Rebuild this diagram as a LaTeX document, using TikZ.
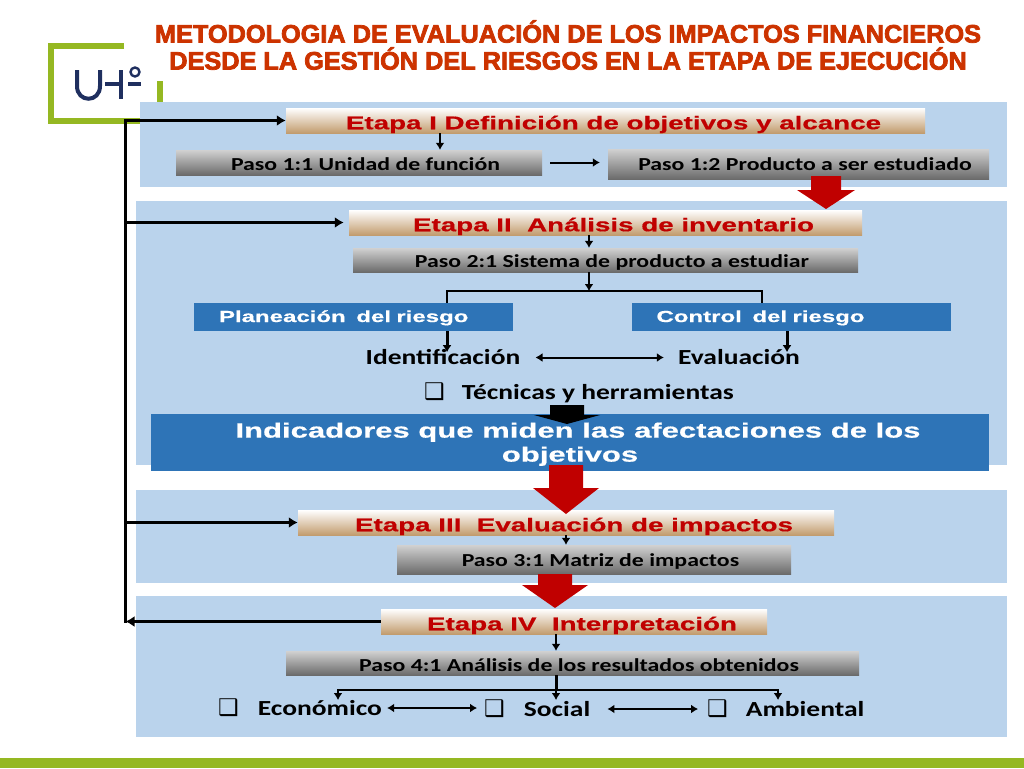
\documentclass[tikz,border=0pt]{standalone}
\usepackage{fontspec}
\usetikzlibrary{arrows.meta}
\newfontfamily\titulofont[FakeBold=3]{Liberation Sans Bold}
\newfontfamily\etapafont[FakeStretch=1.5,FakeBold=0.6]{Liberation Sans Bold}
\newfontfamily\pasofont[FakeStretch=1.3]{Carlito Bold}
\newfontfamily\itemfont[FakeStretch=1.28]{Carlito Bold}
\newfontfamily\cajafont{DejaVu Sans}
\definecolor{panelazul}{HTML}{BAD3EC}
\definecolor{cajaazul}{HTML}{2E74B7}
\definecolor{verdeuho}{HTML}{95B822}
\definecolor{azuluho}{HTML}{1F2F5F}
\definecolor{rojotitulo}{HTML}{CC3300}
\definecolor{rojoetapa}{HTML}{C00000}
\definecolor{tostado}{HTML}{C29C6E}
\tikzset{
  etapa/.style={minimum height=25pt, inner sep=0pt, top color=white, bottom color=tostado, text height=17.5pt, text depth=0pt,
    text=rojoetapa, font=\etapafont\fontsize{18.5}{20}\selectfont, execute at begin node=\hspace{16pt}},
  paso/.style={minimum height=25pt, inner sep=0pt, top color=black!18, bottom color=black!58, text height=15pt, text depth=0pt,
    text=black, font=\pasofont\fontsize{18.3}{20}\selectfont, execute at begin node=\hspace{13pt}},
  riesgo/.style={minimum height=28pt, minimum width=319pt, inner xsep=25pt, inner ysep=0pt, text width=269pt, align=left,
    text height=10pt, text depth=0pt, fill=cajaazul, text=white, font=\etapafont\fontsize{16}{18}\selectfont},
  item/.style={inner sep=0pt, text=black, font=\itemfont\fontsize{21.5}{24}\selectfont},
  flecha/.style={line width=2pt, -{Latex[length=7pt,width=9pt]}},
  doble/.style={line width=2pt, {Latex[length=7pt,width=9pt]}-{Latex[length=7pt,width=9pt]}},
  gruesa/.style={line width=3.6pt, -{Latex[length=9pt,width=11pt]}},
}
\newcommand{\caja}{{\cajafont\fontsize{23}{24}\selectfont ❑}}
\begin{document}
\begin{tikzpicture}[x=1pt, y=-1pt]
  \useasboundingbox (0,0) rectangle (1024,768);
  \fill[verdeuho] (0,758) rectangle (1024,768);

  % logo
  \draw[verdeuho, line width=6pt] (124,46) -- (51,46) -- (51,121) -- (160,121);
  \draw[verdeuho, line width=6pt] (159.5,81) -- (159.5,104);
  \draw[azuluho, line width=4pt] (77,70) -- (77,86) .. controls (77,103) and (100,103) .. (100,86) -- (100,70);
  \draw[azuluho, line width=4pt] (105,83.5) -- (120,83.5) (120.5,70) -- (120.5,99);
  \draw[azuluho, line width=3.2pt] (128,84) -- (141,84);
  \draw[azuluho, line width=2.4pt] (135,72) circle[radius=4.5];

  % panels
  \foreach \xa/\ya/\yb in {140/102/187, 136/201/465, 136/490/583, 136/596/737} {
    \fill[panelazul] (\xa,\ya) rectangle (1007,\yb);
  }

  \node[font=\titulofont\fontsize{25.3}{27}\selectfont, text=rojotitulo, align=center] (titulo) at (568,45)
    {METODOLOGIA DE EVALUACIÓN DE LOS IMPACTOS FINANCIEROS\\DESDE LA GESTIÓN DEL RIESGOS EN LA ETAPA DE EJECUCIÓN};

  \node[etapa, minimum width=639pt] (etapaI) at (605.5,120.5) {Etapa I Definición de objetivos y alcance};
  \node[paso, minimum width=366pt] (pasoUnidad) at (359,162.5) {Paso 1:1 Unidad de función};
  \node[paso, minimum width=381pt, minimum height=30pt, text height=13pt] (pasoProducto) at (798.5,164) {Paso 1:2 Producto a ser estudiado};

  \node[etapa, minimum width=513pt] (etapaII) at (605.5,222.5) {Etapa II\ \ Análisis de inventario};
  \node[paso, minimum width=505pt, minimum height=24pt] (pasoSistema) at (605.5,260) {Paso 2:1 Sistema de producto a estudiar};
  \node[riesgo] (planeacion) at (353.5,317) {Planeación\ \ del riesgo};
  \node[riesgo] (control) at (791,317) {Control\ \ del riesgo};
  \node[item] (identificacion) at (443,357.5) {Identificación};
  \node[item] (evaluacion) at (739,357.5) {Evaluación};
  \node[item, anchor=west] (tecnicas) at (424,393) {\caja\hspace{17pt}Técnicas y herramientas};
  \node[minimum width=838pt, minimum height=57pt, inner sep=0pt, fill=cajaazul, text=white, align=center,
    font=\etapafont\fontsize{20.7}{24}\selectfont] (indicadores) at (570,442.5)
    {\rule{0pt}{18.5pt}\hspace{16pt}Indicadores que miden las afectaciones de los\\objetivos};

  \node[etapa, minimum width=536pt] (etapaIII) at (566,522.5) {Etapa III\ \ Evaluación de impactos};
  \node[paso, minimum width=394pt, minimum height=29pt, text height=13pt] (pasoMatriz) at (594,559.5) {Paso 3:1 Matriz de impactos};

  \node[etapa, minimum width=386pt] (etapaIV) at (574,621.5) {Etapa IV\ \ Interpretación};
  \node[paso, minimum width=573pt, minimum height=24pt, text height=16pt] (pasoAnalisis) at (572.5,663) {Paso 4:1 Análisis de los resultados obtenidos};
  \node[item, anchor=west] (economico) at (218,708) {\caja\hspace{19pt}Económico};
  \node[item, anchor=west] (social) at (484,709) {\caja\hspace{19pt}Social};
  \node[item, anchor=west] (ambiental) at (707,709) {\caja\hspace{18pt}Ambiental};

  % big arrows
  \foreach \cx/\ya/\yb/\yc/\sa/\sb/\col in {
    826/176/190/209/15/29/rojoetapa,
    567/405/415/424/17/33/black,
    566/465/488/514/17/33/rojoetapa,
    555/574/585/608/17/33/rojoetapa} {
    \fill[\col] (\cx-\sa,\ya) -- (\cx+\sa,\ya) -- (\cx+\sa,\yb) -- (\cx+\sb,\yb) -- (\cx,\yc)
      -- (\cx-\sb,\yb) -- (\cx-\sa,\yb) -- cycle;
  }

  \coordinate (esquina) at (125.5,120.5);
  \coordinate (ramalSistema) at (589,291);
  \coordinate (ramalAnalisis) at (556,690);

  % left rail
  \draw[line width=3.6pt, line cap=rect] (esquina) -- (esquina |- etapaIV.west);
  \draw[gruesa] (esquina) -- (etapaI.west);
  \draw[gruesa, shorten >=5pt] (esquina |- etapaII.west) -- (etapaII.west);
  \draw[gruesa] (esquina |- etapaIII.west) -- (etapaIII.west);
  \draw[gruesa] (etapaIV.west) -- (esquina |- etapaIV.west);

  % small arrows
  \draw[flecha] ([xshift=-165.5pt]etapaI.south) -- ([xshift=81pt]pasoUnidad.north);
  \draw[flecha, shorten <=8pt, shorten >=8pt] (pasoUnidad.east) -- (pasoUnidad.east -| pasoProducto.west);
  \draw[flecha] (ramalSistema |- etapaII.south) -- (ramalSistema |- pasoSistema.north);
  \draw[flecha] (ramalSistema |- pasoSistema.south) -- (ramalSistema);
  \draw[line width=2pt] (447,303) -- (447,291) -- (762,291) -- (762,303);
  \draw[flecha, line width=3pt] ([xshift=93.5pt]planeacion.south) -- ++(0,21);
  \draw[flecha, line width=3pt] ([xshift=-4pt]control.south) -- ++(0,21);
  \draw[doble, shorten <=15pt, shorten >=14pt] (identificacion.east) -- (evaluacion.west);

  \draw[flecha] (etapaIII.south) -- (etapaIII.south |- pasoMatriz.north);
  \draw[flecha] (ramalAnalisis |- etapaIV.south) -- (ramalAnalisis |- pasoAnalisis.north);
  \draw[line width=3pt] (ramalAnalisis |- pasoAnalisis.south) -- (ramalAnalisis);
  \draw[flecha] (ramalAnalisis) -- ++(0,10);
  \draw[flecha] (ramalAnalisis) -- (338,690) -- (338,700);
  \draw[flecha] (ramalAnalisis) -- (778,690) -- (778,700);
  \draw[doble, shorten <=5pt, shorten >=7pt] (economico.east) -- (economico.east -| social.west);
  \draw[doble, shorten <=17pt, shorten >=9pt] (social.east) -- (ambiental.west);
\end{tikzpicture}
\end{document}
